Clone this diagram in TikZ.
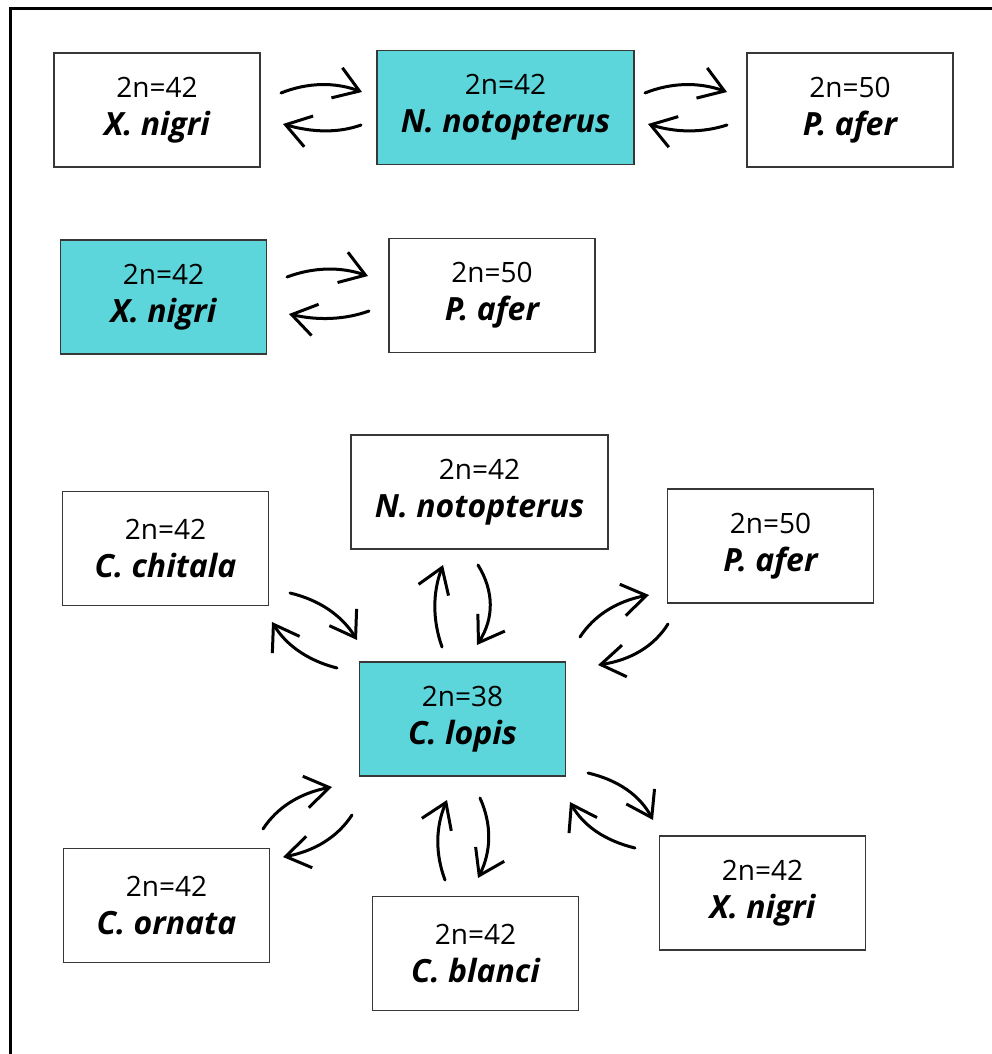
\documentclass[tikz,border=0pt]{standalone}
\usepackage{fontspec}
\setmainfont{Open Sans}
\usetikzlibrary{arrows.meta,calc}
\definecolor{cy}{RGB}{92,214,219}
\definecolor{bd}{RGB}{55,55,55}
\newcommand\spc[2]{{\fontsize{28}{38}\selectfont #1}\\{\fontsize{32}{38}\selectfont\bfseries\itshape #2}}
\newcommand\carrow[4]{\coordinate (#1s) at (#2); \coordinate (#1e) at (#4); \coordinate (#1q) at (#3);
  \draw[arr] (#1s) .. controls ($(#1s)!0.6667!(#1q)$) and ($(#1e)!0.6667!(#1q)$) .. (#1e);}
\tikzset{
  sbox/.style={draw=bd, line width=1.2pt, fill=white, minimum width=206pt, minimum height=114pt,
    inner sep=0pt, align=center, font=\fontsize{28}{38}\selectfont},
  wide/.style={minimum width=257pt},
  hl/.style={fill=cy},
  arr/.style={line width=3pt, line cap=round, -{Straight Barb[length=24pt,width=32pt,line width=3pt]}},
}
\begin{document}
\begin{tikzpicture}[x=1pt,y=-1pt]
\useasboundingbox (0,0) rectangle (992,1054);
% frame
\draw[line width=3pt] (10,1056) -- (10,9) -- (994,9);
% row 1
\node[sbox] (a1) at (157,110) {\spc{2n=42}{X. nigri}};
\node[sbox,wide,hl] (a2) at (505.5,107.5) {\spc{2n=42}{N. notopterus}};
\node[sbox] (a3) at (850,110) {\spc{2n=50}{P. afer}};
% row 2
\node[sbox,hl] (b1) at (163.5,297) {\spc{2n=42}{X. nigri}};
\node[sbox] (b2) at (492,295.5) {\spc{2n=50}{P. afer}};
% row 3
\node[sbox] (c1) at (165.5,548.5) {\spc{2n=42}{C. chitala}};
\node[sbox,wide] (c2) at (479.5,492) {\spc{2n=42}{N. notopterus}};
\node[sbox] (c3) at (770.5,546) {\spc{2n=50}{P. afer}};
\node[sbox,hl] (c0) at (462.5,719) {\spc{2n=38}{C. lopis}};
\node[sbox] (c4) at (166.5,905.5) {\spc{2n=42}{C. ornata}};
\node[sbox] (c5) at (475.5,953.5) {\spc{2n=42}{C. blanci}};
\node[sbox] (c6) at (762.5,893) {\spc{2n=42}{X. nigri}};
% arrows row 1
\carrow{r1a}{281,93}{321,77}{362,92}
\carrow{r1b}{361,125}{328,137}{283,124}
\carrow{r1c}{645,93}{685,77}{727,92}
\carrow{r1d}{727,125}{690,137}{648,124}
% row 2
\carrow{r2a}{287,277}{327,262}{368,276}
\carrow{r2b}{369,311}{333,324}{289,314}
% row 3
\carrow{n1}{442,647}{427.5,606}{443,565}
\carrow{n2}{478,565}{502.5,605}{477,645}
\carrow{k1}{290,593}{334.5,603.5}{357,640}
\carrow{k2}{337,668}{293.5,657}{272,622}
\carrow{p1}{580,637}{601.5,604}{649,595}
\carrow{p2}{668,624}{647,657.5}{598,665}
\carrow{o1}{263,829}{284.5,796}{332,787}
\carrow{o2}{352,815}{330.5,848}{283,857}
\carrow{b1a}{445,880}{430,840}{447,800}
\carrow{b1b}{480,798}{498,838}{478,878}
\carrow{x1}{588,773}{633.5,783.5}{653,820}
\carrow{x2}{635,848}{589.5,837}{570,802}
\end{tikzpicture}
\end{document}
